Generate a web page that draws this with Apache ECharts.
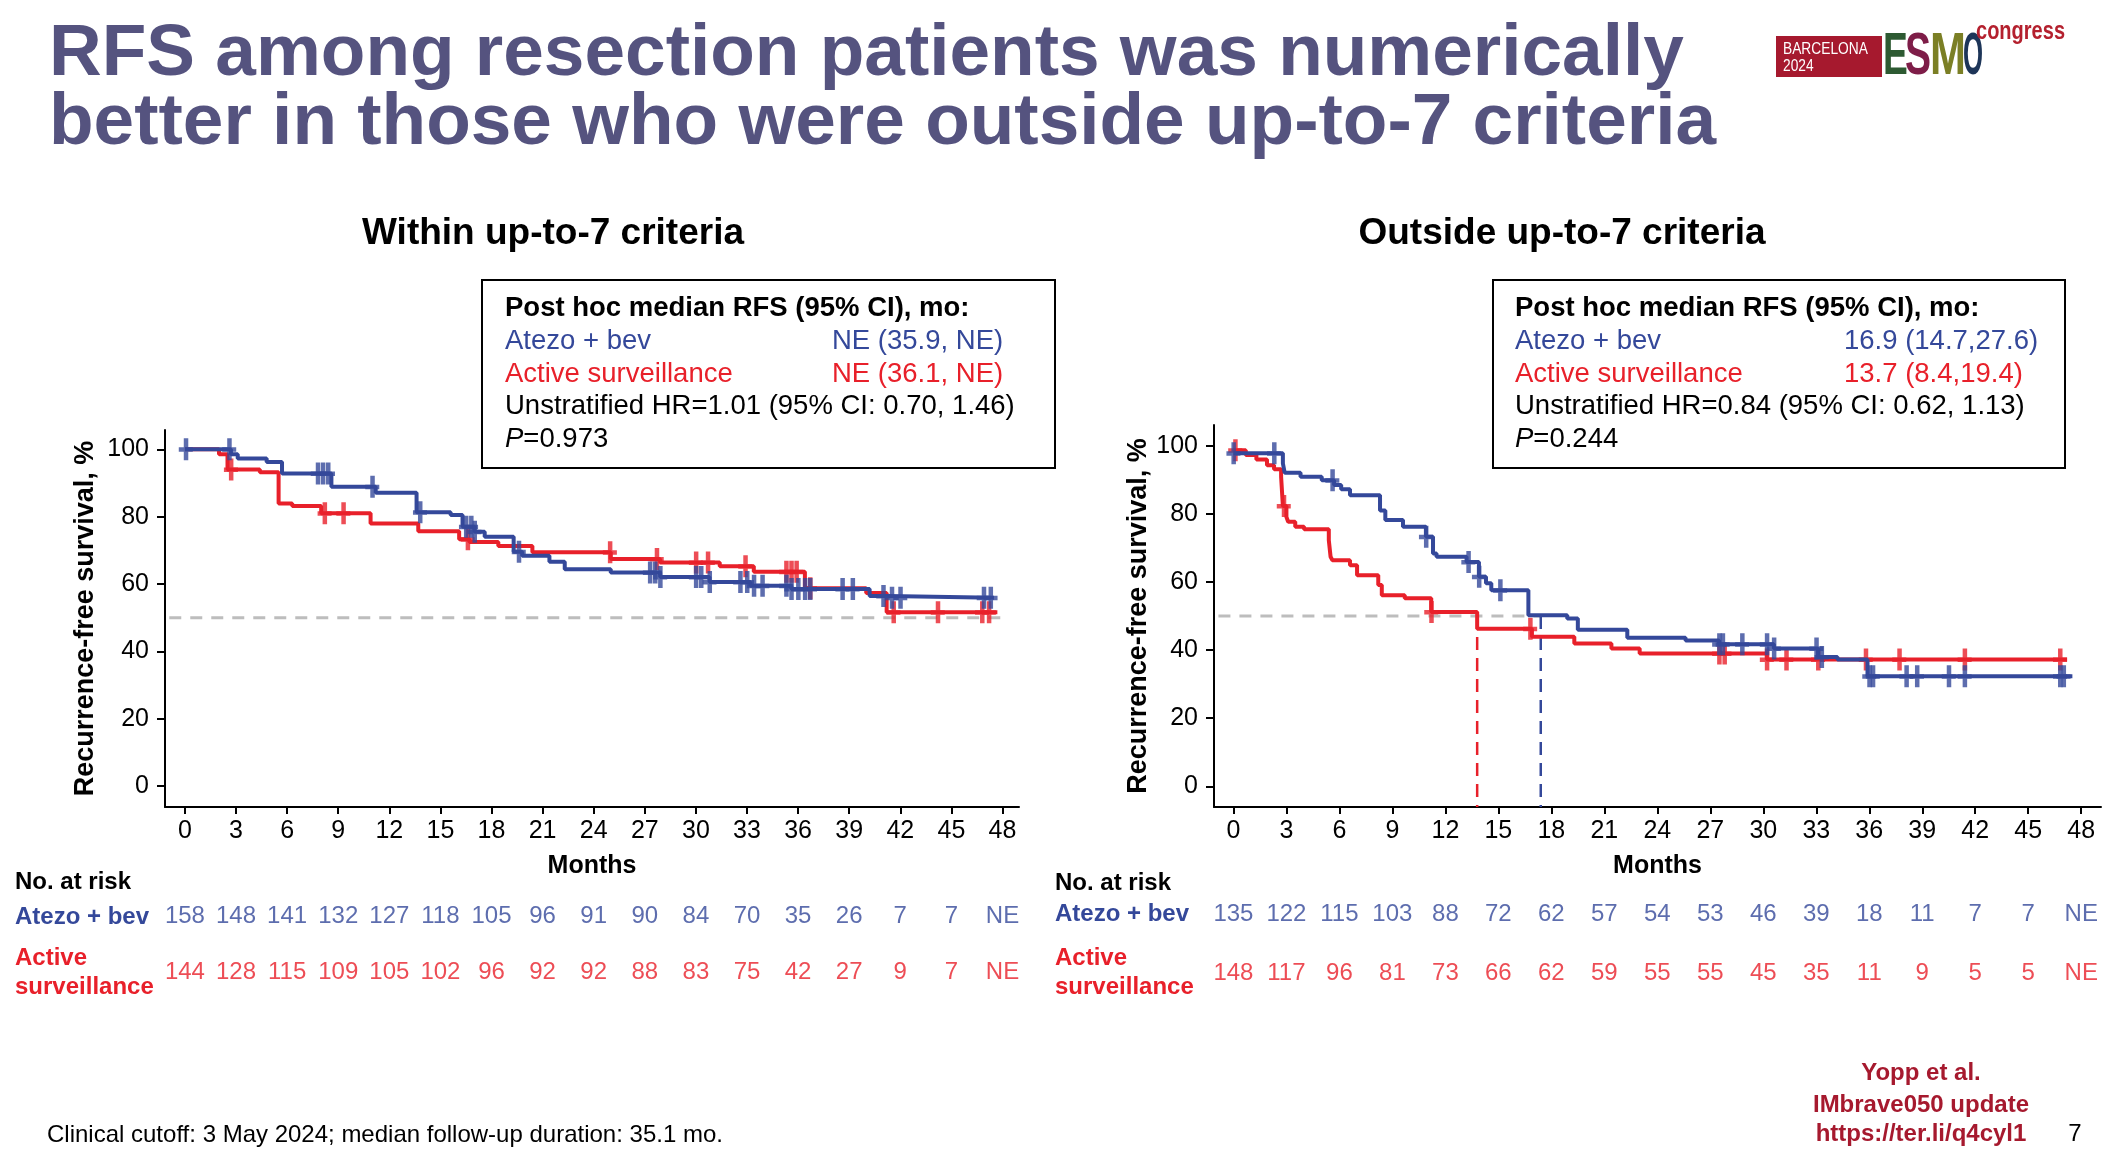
<!DOCTYPE html>
<html>
<head>
<meta charset="utf-8">
<script src="https://cdn.jsdelivr.net/npm/echarts@6/dist/echarts.min.js"></script>
<style>
html,body{margin:0;padding:0;background:#fff;}
#chart{width:2114px;height:1174px;}
</style>
</head>
<body>
<div id="chart"></div>
<script>
// ---------------- DATA ----------------
const months = [0,3,6,9,12,15,18,21,24,27,30,33,36,39,42,45,48];
const yTicks = [0,20,40,60,80,100];

// Within up-to-7 criteria: Atezo + bev (step times / survival %)
const withinAtezoT = [0, 2.7, 3.1, 4.8, 5.7, 8.6, 11.2, 13.6, 15.6, 16.3, 17.0, 17.6, 19.3, 19.8, 21.4, 22.3, 25.0, 27.9, 30.8, 33.2, 35.6, 40.2, 41.3, 47.5];
const withinAtezoS = [100, 98.5, 97.3, 96.2, 92.8, 88.9, 87.1, 81.3, 80.5, 77.0, 75.5, 74.0, 69.6, 68.4, 66.6, 64.4, 63.4, 62.1, 60.6, 59.5, 58.5, 56.4, 55.9, 55.9];
const withinAtezoCensor = [0.05, 2.6, 7.8, 8.1, 8.4, 11.0, 13.8, 16.5, 16.8, 17.0, 19.6, 27.3, 27.6, 27.9, 30.0, 30.3, 30.8, 32.6, 33.0, 33.4, 33.9, 35.3, 35.6, 36.0, 36.4, 36.7, 38.6, 39.2, 41.0, 41.5, 42.0, 46.9, 47.3];
// Within up-to-7 criteria: Active surveillance
const withinActiveT = [0, 2.0, 2.5, 4.4, 5.5, 6.3, 8.0, 10.9, 13.7, 16.1, 16.7, 18.4, 20.4, 25.0, 27.9, 31.4, 33.4, 36.4, 40.0, 41.2, 47.7];
const withinActiveS = [100, 98.5, 94.0, 93.2, 83.9, 83.2, 81.0, 78.0, 75.7, 73.3, 72.5, 71.3, 69.4, 67.4, 66.4, 65.3, 63.6, 58.7, 57.3, 51.6, 51.6];
const withinActiveCensor = [2.7, 8.2, 9.3, 16.6, 24.95, 27.7, 30.0, 30.7, 32.9, 35.3, 35.6, 35.9, 36.7, 41.6, 44.2, 46.8, 47.2];

// Outside up-to-7 criteria: Atezo + bev
const outsideAtezoT = [0, 2.8, 2.9, 3.8, 5.0, 5.7, 6.1, 6.6, 8.3, 8.6, 9.6, 10.9, 11.3, 11.5, 13.2, 13.9, 14.3, 14.6, 16.7, 18.9, 19.5, 22.3, 25.6, 27.5, 30.6, 33.1, 34.2, 35.9, 47.5];
const outsideAtezoS = [97.8, 94.8, 92.1, 90.9, 89.9, 88.5, 87.2, 85.5, 81.0, 78.2, 76.2, 73.3, 68.4, 67.4, 65.9, 61.5, 59.6, 57.6, 50.2, 49.3, 46.0, 43.6, 42.8, 41.7, 40.5, 38.0, 37.2, 32.3, 32.3];
const outsideAtezoCensor = [0.0, 2.3, 5.6, 10.9, 13.3, 13.9, 15.1, 27.5, 27.7, 28.8, 30.2, 30.6, 33.0, 33.3, 36.0, 36.2, 38.1, 38.7, 40.5, 41.4, 46.8, 47.0];
// Outside up-to-7 criteria: Active surveillance
const outsideActiveT = [0, 0.7, 1.3, 1.9, 2.3, 2.7, 2.8, 3.0, 3.1, 3.5, 4.0, 5.4, 5.5, 5.6, 6.6, 7.0, 8.2, 8.4, 9.7, 11.2, 13.8, 16.9, 19.3, 21.4, 23.0, 30.2, 47.2];
const outsideActiveS = [98.7, 97.3, 96.0, 94.3, 93.1, 90.9, 82.3, 79.1, 77.7, 76.2, 75.5, 72.3, 67.4, 66.4, 64.9, 62.0, 59.1, 56.1, 55.2, 51.2, 46.3, 43.9, 41.9, 40.5, 39.0, 37.2, 37.2];
const outsideActiveCensor = [0.1, 2.85, 11.2, 16.8, 27.5, 27.8, 30.2, 31.3, 33.1, 35.8, 37.7, 41.4, 46.8];

// Medians drawn on the "outside" panel (months)
const outsideMedianActive = 13.8;
const outsideMedianAtezo = 17.4;

// Numbers at risk
const withinAtezoRisk  = [158,148,141,132,127,118,105,96,91,90,84,70,35,26,7,7,'NE'];
const withinActiveRisk = [144,128,115,109,105,102,96,92,92,88,83,75,42,27,9,7,'NE'];
const outsideAtezoRisk  = [135,122,115,103,88,72,62,57,54,53,46,39,18,11,7,7,'NE'];
const outsideActiveRisk = [148,117,96,81,73,66,62,59,55,55,45,35,11,9,5,5,'NE'];

// ---------------- STYLE ----------------
const FONT = 'Liberation Sans, Arial, Helvetica, sans-serif';
const BLUE = '#34489a';
const RED = '#e8202a';
const TITLE = '#55537f';
const DARKRED = '#a6192e';
const CROSS = 'path://M5,0 H9.5 V9 H14 V13.5 H9.5 V22 H5 V13.5 H0 V9 H5 Z';

function survAt(T, S, t) {
  let v = S[0];
  for (let i = 0; i < T.length; i++) { if (T[i] <= t) v = S[i]; }
  return v;
}
const stepData = (T, S) => T.map((t, i) => [t, S[i]]);
const censorData = (T, S, C) => C.map(t => [t, survAt(T, S, t)]);

const panels = [
  {left:165, width:854, top:430, height:377, xMin:-1.17, xMax:48.97, yMin:-6.24, yMax:105.74,
   riskTop:916, riskH:56, nameGap:66,
   atezo:[withinAtezoT, withinAtezoS, withinAtezoCensor], active:[withinActiveT, withinActiveS, withinActiveCensor],
   riskA: withinAtezoRisk, riskB: withinActiveRisk, refEnd: 48.1, medians: null},
  {left:1214, width:887, top:425, height:382, xMin:-1.1, xMax:49.12, yMin:-6.08, yMax:106.1,
   riskTop:914, riskH:59, nameGap:61,
   atezo:[outsideAtezoT, outsideAtezoS, outsideAtezoCensor], active:[outsideActiveT, outsideActiveS, outsideActiveCensor],
   riskA: outsideAtezoRisk, riskB: outsideActiveRisk, refEnd: outsideMedianAtezo, medians: [outsideMedianActive, outsideMedianAtezo]}
];

const grid = [], xAxis = [], yAxis = [], series = [];
panels.forEach((p, k) => {
  const gi = grid.length;
  grid.push({left:p.left, top:p.top, width:p.width, height:p.height, containLabel:false});
  grid.push({left:p.left, top:p.riskTop, width:p.width, height:p.riskH, containLabel:false});
  xAxis.push({
    gridIndex: gi, type:'value', min:p.xMin, max:p.xMax,
    name:'Months', nameLocation:'middle', nameGap:47,
    nameTextStyle:{fontFamily:FONT, fontSize:25, fontWeight:'bold', color:'#000'},
    axisLine:{show:true, onZero:false, lineStyle:{color:'#000', width:2}},
    axisTick:{show:true, customValues:months, length:7, lineStyle:{color:'#000', width:2}},
    axisLabel:{show:true, customValues:months, fontFamily:FONT, fontSize:25, color:'#000', margin:12},
    splitLine:{show:false}
  });
  xAxis.push({gridIndex: gi+1, type:'value', min:p.xMin, max:p.xMax, show:false});
  yAxis.push({
    gridIndex: gi, type:'value', min:p.yMin, max:p.yMax,
    name:'Recurrence-free survival, %', nameLocation:'middle', nameGap:p.nameGap,
    nameTextStyle:{fontFamily:FONT, fontSize:27, fontWeight:'bold', color:'#000'},
    axisLine:{show:true, onZero:false, lineStyle:{color:'#000', width:2}},
    axisTick:{show:true, customValues:yTicks, length:8, lineStyle:{color:'#000', width:2}},
    axisLabel:{show:true, customValues:yTicks, fontFamily:FONT, fontSize:25, color:'#000', margin:16},
    splitLine:{show:false}
  });
  yAxis.push({gridIndex: gi+1, type:'value', min:0, max:1, show:false});
  const xi = gi, yi = gi;
  // 50% reference line
  series.push({type:'line', xAxisIndex:xi, yAxisIndex:yi, data:[[p.xMin+0.25,50],[p.refEnd,50]],
    symbol:'none', silent:true, z:1,
    lineStyle:{color:'#bdbdbd', width:3, type:[12,9]}});
  if (p.medians) {
    [[p.medians[0], RED], [p.medians[1], BLUE]].forEach(([m, c]) => {
      series.push({type:'line', xAxisIndex:xi, yAxisIndex:yi, data:[[m,50],[m,p.yMin]],
        symbol:'none', silent:true, z:1, lineStyle:{color:c, width:2.5, type:[13,8]}});
    });
  }
  // curves: red first, blue on top
  [[p.active, RED], [p.atezo, BLUE]].forEach(([d, c], j) => {
    series.push({type:'line', xAxisIndex:xi, yAxisIndex:yi, step:'end', data:stepData(d[0], d[1]),
      symbol:'none', z:3+j, lineStyle:{color:c, width:4}});
    series.push({type:'scatter', xAxisIndex:xi, yAxisIndex:yi, data:censorData(d[0], d[1], d[2]),
      symbol:CROSS, symbolSize:[14,22], z:3+j, itemStyle:{color:c}});
  });
  // numbers at risk
  [[p.riskA, 1, BLUE], [p.riskB, 0, RED]].forEach(([arr, row, c]) => {
    series.push({type:'scatter', xAxisIndex:gi+1, yAxisIndex:gi+1,
      data: months.map((m, i) => [m, row, arr[i]]),
      symbolSize:1, itemStyle:{color:'rgba(0,0,0,0)'},
      label:{show:true, position:'inside', formatter: q => String(q.value[2]),
        fontFamily:FONT, fontSize:24, color:c}});
  });
});

function txt(x, y, text, opt) {
  opt = opt || {};
  return {type:'text', x:x, y:y, silent:true, scaleX: opt.scaleX || 1,
    style: Object.assign({text:text, fill:opt.fill || '#000',
      font:(opt.weight || 'normal') + ' ' + (opt.size || 24) + 'px ' + FONT,
      textAlign:opt.align || 'left', textVerticalAlign:'middle',
      align:opt.align || 'left', verticalAlign:'middle'}, opt.extra || {})};
}
const ital = {rich:{i:{fontStyle:'italic', fontSize:27.5, fontFamily:FONT, fill:'#000'}}};

const graphic = [
  // Slide title
  txt(49, 55, 'RFS among resection patients was numerically', {size:73, weight:'bold', fill:TITLE}),
  txt(49, 124, 'better in those who were outside up-to-7 criteria', {size:73, weight:'bold', fill:TITLE}),
  // Logo
  {type:'rect', silent:true, shape:{x:1776, y:36, width:106, height:41}, style:{fill:DARKRED}},
  txt(1783, 49, 'BARCELONA', {size:17, fill:'#fff', scaleX:0.81}),
  txt(1783, 66, '2024', {size:17, fill:'#fff', scaleX:0.81}),
  txt(1883, 57, 'E', {size:60, weight:'bold', fill:'#2d5a32', scaleX:0.62}),
  txt(1905, 57, 'S', {size:60, weight:'bold', fill:'#7e1d48', scaleX:0.65}),
  txt(1930, 57, 'M', {size:60, weight:'bold', fill:'#7b7f25', scaleX:0.72}),
  txt(1963, 57, 'O', {size:60, weight:'bold', fill:'#1d3558', scaleX:0.43}),
  txt(1976, 32, 'congress', {size:26, weight:'bold', fill:'#b4202e', scaleX:0.77}),
  // Panel titles
  txt(553, 234, 'Within up-to-7 criteria', {size:37, weight:'bold', align:'center'}),
  txt(1562, 234, 'Outside up-to-7 criteria', {size:37, weight:'bold', align:'center'}),
  // Boxes
  {type:'rect', silent:true, shape:{x:482, y:280, width:573, height:188}, style:{fill:'#fff', stroke:'#000', lineWidth:2}},
  {type:'rect', silent:true, shape:{x:1493, y:280, width:572, height:188}, style:{fill:'#fff', stroke:'#000', lineWidth:2}},
  txt(505, 308, 'Post hoc median RFS (95% CI), mo:', {size:27.5, weight:'bold'}),
  txt(505, 341, 'Atezo + bev', {size:27.5, fill:BLUE}),
  txt(832, 341, 'NE (35.9, NE)', {size:27.5, fill:BLUE}),
  txt(505, 374, 'Active surveillance', {size:27.5, fill:RED}),
  txt(832, 374, 'NE (36.1, NE)', {size:27.5, fill:RED}),
  txt(505, 406, 'Unstratified HR=1.01 (95% CI: 0.70, 1.46)', {size:27.5}),
  txt(505, 439, '{i|P}=0.973', {size:27.5, extra:ital}),
  txt(1515, 308, 'Post hoc median RFS (95% CI), mo:', {size:27.5, weight:'bold'}),
  txt(1515, 341, 'Atezo + bev', {size:27.5, fill:BLUE}),
  txt(1844, 341, '16.9 (14.7,27.6)', {size:27.5, fill:BLUE}),
  txt(1515, 374, 'Active surveillance', {size:27.5, fill:RED}),
  txt(1844, 374, '13.7 (8.4,19.4)', {size:27.5, fill:RED}),
  txt(1515, 406, 'Unstratified HR=0.84 (95% CI: 0.62, 1.13)', {size:27.5}),
  txt(1515, 439, '{i|P}=0.244', {size:27.5, extra:ital}),
  // Risk table labels
  txt(15, 882, 'No. at risk', {size:24, weight:'bold'}),
  txt(15, 917, 'Atezo + bev', {size:24, weight:'bold', fill:BLUE}),
  txt(15, 958, 'Active', {size:24, weight:'bold', fill:RED}),
  txt(15, 987, 'surveillance', {size:24, weight:'bold', fill:RED}),
  txt(1055, 883, 'No. at risk', {size:24, weight:'bold'}),
  txt(1055, 914, 'Atezo + bev', {size:24, weight:'bold', fill:BLUE}),
  txt(1055, 958, 'Active', {size:24, weight:'bold', fill:RED}),
  txt(1055, 987, 'surveillance', {size:24, weight:'bold', fill:RED}),
  // Footer
  txt(47, 1135, 'Clinical cutoff: 3 May 2024; median follow-up duration: 35.1 mo.', {size:24}),
  txt(1921, 1073, 'Yopp et al.', {size:24, weight:'bold', fill:DARKRED, align:'center'}),
  txt(1921, 1105, 'IMbrave050 update', {size:24, weight:'bold', fill:DARKRED, align:'center'}),
  txt(1921, 1134, 'https://ter.li/q4cyl1', {size:24, weight:'bold', fill:DARKRED, align:'center'}),
  txt(2075, 1134, '7', {size:24, align:'center'})
];

const chart = echarts.init(document.getElementById('chart'), null, {renderer:'canvas'});
chart.setOption({
  backgroundColor:'#fff',
  animation:false,
  grid: grid, xAxis: xAxis, yAxis: yAxis, series: series, graphic: graphic
});
</script>
</body>
</html>
